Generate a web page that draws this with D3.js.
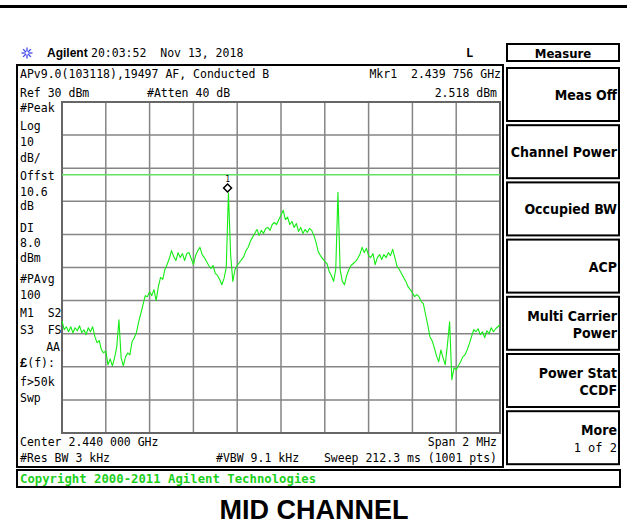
<!DOCTYPE html>
<html>
<head>
<meta charset="utf-8">
<script src="https://cdn.jsdelivr.net/npm/d3@7/dist/d3.min.js"></script>
<style>
  html, body { margin: 0; padding: 0; background: #fff; }
  svg { display: block; }
</style>
</head>
<body>
<script>
// sweep: offset from centre in kHz, 10 kHz per step
const startKHz = -1000;
const stepKHz = 10;

// trace level in dBm
const levels = [
  -36.1, -38.8, -37.9, -39.4, -37.9, -39.7, -38.2, -39.1, -37.6, -39.7,
  -38.8, -40.3, -38.2, -39.4, -37.9, -40.9, -42.7, -42.1, -44.9, -45.8,
  -45.2, -49.4, -47.6, -49.7, -47.3, -44.0, -35.8, -47.3, -49.7, -47.0,
  -45.8, -46.4, -42.4, -41.2, -39.7, -36.4, -33.9, -31.2, -28.5, -28.8,
  -27.3, -28.5, -26.7, -30.0, -25.8, -23.0, -23.6, -20.6, -19.1, -17.3,
  -14.9, -16.7, -17.9, -15.5, -17.0, -15.8, -17.9, -15.8, -15.5, -17.3,
  -19.1, -16.4, -14.9, -13.9, -16.1, -17.0, -18.2, -19.4, -20.3, -19.4,
  -21.8, -22.4, -23.6, -25.2, -23.3, -20.0, 2.5, -16.1, -24.2, -20.6,
  -19.4, -18.5, -17.6, -16.7, -14.9, -13.9, -12.1, -10.9, -9.7, -8.5,
  -10.3, -8.8, -9.7, -8.2, -7.9, -8.8, -7.0, -6.4, -7.0, -5.5,
  -4.2, -2.7, -5.5, -4.8, -7.0, -6.1, -7.9, -6.7, -9.1, -7.9,
  -9.7, -8.5, -9.4, -8.2, -8.8, -10.3, -12.4, -15.2, -16.4, -17.3,
  -18.2, -18.8, -21.2, -22.4, -24.2, -20.6, 2.7, -20.6, -24.2, -25.2,
  -22.4, -20.6, -19.4, -18.8, -18.2, -17.3, -16.1, -13.9, -15.5, -14.2,
  -16.4, -17.0, -15.8, -19.1, -17.0, -16.1, -17.6, -16.1, -17.0, -15.5,
  -16.4, -14.5, -17.0, -19.7, -20.6, -21.8, -23.0, -24.2, -25.8, -26.7,
  -27.6, -28.8, -28.2, -28.8, -30.3, -30.9, -34.2, -37.3, -40.9, -42.1,
  -44.2, -46.7, -48.5, -44.9, -47.3, -49.4, -43.3, -36.4, -53.9, -50.3,
  -50.9, -49.7, -48.5, -47.0, -46.4, -44.9, -43.0, -40.9, -38.8, -39.4,
  -38.5, -40.3, -39.4, -41.2, -39.1, -40.0, -38.2, -39.4, -38.5, -37.9,
  -37.3
];

const refLevel = 30;      // dBm, top of screen
const dbPerDiv = 10;
const displayLine = 8.0;  // dBm
const markerKHz = -244;   // 2.439 756 GHz
const markerLevel = 2.518;

const leftLabels = ["#Peak", "Log", "10", "dB/", "Offst", "10.6", "dB", "DI", "8.0", "dBm",
  "#PAvg", "100", "M1  S2", "S3  FS", "AA", "£(f):", "f>50k", "Swp"];
const softkeys = [["Meas Off"], ["Channel Power"], ["Occupied BW"], ["ACP"],
  ["Multi Carrier", "Power"], ["Power Stat", "CCDF"], ["More", "1 of 2"]];

const W = 627, H = 529;
const mono = "'DejaVu Sans Mono', monospace";
const grid = { left: 62, right: 500, top: 102, bottom: 433 };

const svg = d3.select("body").append("svg")
  .attr("width", W).attr("height", H);

const x = d3.scaleLinear().domain([-1000, 1000]).range([grid.left, grid.right]);
const y = d3.scaleLinear().domain([refLevel, refLevel - 10 * dbPerDiv]).range([grid.top, grid.bottom]);

// top rule
svg.append("rect").attr("x", 0).attr("y", 5).attr("width", W).attr("height", 3).attr("fill", "#000");

// header: logo, clock
const star = svg.append("g").attr("transform", "translate(27,53)");
d3.range(8).forEach(k => {
  const a = k * Math.PI / 4;
  star.append("line")
    .attr("x1", Math.cos(a) * 1.5).attr("y1", Math.sin(a) * 1.5)
    .attr("x2", Math.cos(a) * 5.5).attr("y2", Math.sin(a) * 5.5)
    .attr("stroke", "#3b46f0").attr("stroke-width", 1.3);
});
svg.append("text").attr("x", 47).attr("y", 57)
  .attr("font-family", "'Liberation Sans', Arial, sans-serif").attr("font-weight", "bold")
  .attr("font-size", 12).text("Agilent");
svg.append("text").attr("x", 91).attr("y", 57).attr("font-family", mono).attr("font-size", 11.5)
  .attr("xml:space", "preserve").text("20:03:52  Nov 13, 2018");
svg.append("text").attr("x", 466).attr("y", 57).attr("font-family", mono).attr("font-size", 12)
  .attr("font-weight", "bold").text("L");

// main panel
svg.append("rect").attr("x", 17).attr("y", 65).attr("width", 486).attr("height", 402)
  .attr("fill", "#fff").attr("stroke", "#000").attr("stroke-width", 2);

const txt = (xx, yy, s, anchor) => svg.append("text")
  .attr("x", xx).attr("y", yy).attr("font-family", mono).attr("font-size", 11.5)
  .attr("text-anchor", anchor || "start").attr("xml:space", "preserve").text(s);

txt(20, 78, "APv9.0(103118),19497 AF, Conducted B");
txt(501, 78, "Mkr1  2.439 756 GHz", "end");
txt(20, 97, "Ref 30 dBm");
txt(147, 97, "#Atten 40 dB");
txt(497, 97, "2.518 dBm", "end");

const labelY = [112, 130, 146, 162, 180, 196, 210, 232, 247, 262, 283, 299, 317, 334, 351, 367, 386, 402];
leftLabels.forEach((s, i) => {
  if (s === "AA") txt(60, labelY[i], s, "end");
  else if (s.startsWith("£")) {
    const t = txt(20, labelY[i], "");
    t.append("tspan").attr("font-weight", "bold").attr("font-family", "'Liberation Sans', sans-serif")
      .attr("font-size", 13).text("£");
    t.append("tspan").text(s.slice(1));
  } else txt(20, labelY[i], s);
});

txt(20, 446, "Center 2.440 000 GHz");
txt(497, 446, "Span 2 MHz", "end");
txt(20, 462, "#Res BW 3 kHz");
txt(216, 462, "#VBW 9.1 kHz");
txt(497, 462, "Sweep 212.3 ms (1001 pts)", "end");

// graticule
const gx = d3.range(1, 10).map(k => -1000 + k * 200);
const gy = d3.range(1, 10).map(k => refLevel - k * dbPerDiv);
svg.append("g").selectAll("line").data(gx).join("line")
  .attr("x1", d => x(d)).attr("x2", d => x(d)).attr("y1", grid.top).attr("y2", grid.bottom)
  .attr("stroke", "#858585").attr("stroke-width", 1.5);
svg.append("g").selectAll("line").data(gy).join("line")
  .attr("y1", d => y(d)).attr("y2", d => y(d)).attr("x1", grid.left).attr("x2", grid.right)
  .attr("stroke", "#858585").attr("stroke-width", 1.5);
svg.append("rect").attr("x", grid.left).attr("y", grid.top)
  .attr("width", grid.right - grid.left).attr("height", grid.bottom - grid.top)
  .attr("fill", "none").attr("stroke", "#666").attr("stroke-width", 2);

// display line
svg.append("line").attr("x1", grid.left).attr("x2", grid.right)
  .attr("y1", y(displayLine)).attr("y2", y(displayLine))
  .attr("stroke", "#62e262").attr("stroke-width", 1.5);

// trace
const pts = levels.map((v, i) => [startKHz + i * stepKHz, v]);
const line = d3.line().x(d => x(d[0])).y(d => y(d[1]));
svg.append("path").datum(pts).attr("d", line)
  .attr("fill", "none").attr("stroke", "#14ec14").attr("stroke-width", 1.1)
  .attr("stroke-linejoin", "round");

// marker 1
const mx = x(markerKHz), my = y(markerLevel) - 5;
svg.append("path").attr("d", d3.symbol(d3.symbolDiamond2, 40)())
  .attr("transform", `translate(${mx},${my})`)
  .attr("fill", "#fff").attr("stroke", "#000").attr("stroke-width", 1.5);
svg.append("text").attr("x", mx).attr("y", my - 6).attr("text-anchor", "middle")
  .attr("font-family", mono).attr("font-size", 8).text("1");

// soft keys
const keyFont = "'DejaVu Sans Condensed', 'DejaVu Sans', sans-serif";
svg.append("rect").attr("x", 507).attr("y", 44).attr("width", 112).attr("height", 17)
  .attr("fill", "#fff").attr("stroke", "#000").attr("stroke-width", 2);
svg.append("text").attr("x", 563).attr("y", 57.5).attr("text-anchor", "middle")
  .attr("font-family", keyFont).attr("font-weight", "bold").attr("font-size", 13).text("Measure");

softkeys.forEach((k, i) => {
  const top = 68 + i * 57.2;
  svg.append("rect").attr("x", 507).attr("y", top).attr("width", 112).attr("height", 53)
    .attr("fill", "#fff").attr("stroke", "#000").attr("stroke-width", 2);
  if (k.length === 1) {
    svg.append("text").attr("x", 617).attr("y", top + 32).attr("text-anchor", "end")
      .attr("font-family", keyFont).attr("font-weight", "bold").attr("font-size", 14).text(k[0]);
  } else {
    const more = k[1] === "1 of 2";
    svg.append("text").attr("x", 617).attr("y", top + 24).attr("text-anchor", "end")
      .attr("font-family", keyFont).attr("font-weight", "bold").attr("font-size", 14).text(k[0]);
    svg.append("text").attr("x", 617).attr("y", top + 41).attr("text-anchor", "end")
      .attr("font-family", more ? mono : keyFont).attr("font-weight", more ? "normal" : "bold")
      .attr("font-size", more ? 12 : 14).attr("xml:space", "preserve").text(k[1]);
  }
});

// copyright bar
svg.append("rect").attr("x", 17).attr("y", 470).attr("width", 603).attr("height", 17)
  .attr("fill", "#fff").attr("stroke", "#000").attr("stroke-width", 2);
svg.append("text").attr("x", 20).attr("y", 483).attr("font-family", mono).attr("font-weight", "bold")
  .attr("font-size", 12.3).attr("fill", "#1bd01b").text("Copyright 2000-2011 Agilent Technologies");

// caption
svg.append("text").attr("x", 314).attr("y", 519).attr("text-anchor", "middle")
  .attr("font-family", "'Liberation Sans', Arial, sans-serif").attr("font-weight", "bold")
  .attr("font-size", 27).text("MID CHANNEL");
</script>
</body>
</html>
